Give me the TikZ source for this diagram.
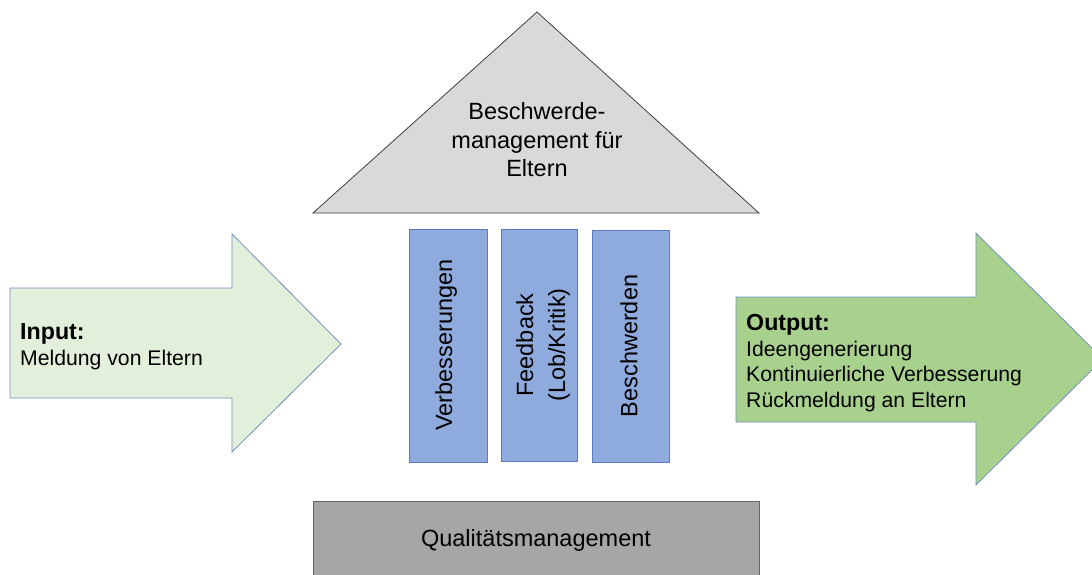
\documentclass[tikz,border=0pt]{standalone}
\usepackage{fontspec}
\setmainfont{Liberation Sans}
\definecolor{trifill}{HTML}{D9D9D9}
\definecolor{qmfill}{HTML}{A6A6A6}
\definecolor{colfill}{HTML}{8FAADC}
\definecolor{colline}{HTML}{5B7BC0}
\definecolor{infill}{HTML}{E2EFDA}
\definecolor{outfill}{HTML}{A9D18E}
\definecolor{arrline}{HTML}{7090C0}
\definecolor{darkline}{HTML}{404040}
\newcommand{\iohead}[1]{{\fontsize{23.2}{26}\selectfont\bfseries #1}}
\tikzset{
  bigtext/.style={font=\fontsize{23.5}{26.7}\selectfont, inner sep=0pt, align=center},
  iotext/.style={font=\fontsize{21.2}{26}\selectfont, inner sep=0pt, align=left, anchor=west},
  pillar/.style={draw=colline, fill=colfill, line width=0.8pt},
}
\begin{document}
\begin{tikzpicture}[x=1pt,y=-1pt]
\useasboundingbox (0,0) rectangle (1092,574);
% roof
\draw[draw=darkline, fill=trifill, line width=0.8pt] (537,12) -- (759,213) -- (313,213) -- cycle;
\node[bigtext, font=\fontsize{23.5}{28.5}\selectfont] (roof) at (537,140) {Beschwerde-\\management für\\Eltern};
% base
\draw[draw=darkline!80, fill=qmfill, line width=0.8pt] (313,590) -- (313,501) -- (759,501) -- (759,590);
\node[bigtext] (qm) at (536,540) {Qualitätsmanagement};
% pillars
\draw[pillar] (409,229) rectangle (487,462);
\draw[pillar] (501,229) rectangle (577,461);
\draw[pillar] (592,230) rectangle (669,462);
\node[bigtext, rotate=90] (p1) at (446,345) {Verbesserungen};
\node[bigtext, rotate=90, font=\fontsize{23.5}{32}\selectfont] (p2) at (543,345) {Feedback\\(Lob/Kritik)};
\node[bigtext, rotate=90] (p3) at (629,346) {Beschwerden};
% input arrow
\draw[draw=arrline, fill=infill, line width=0.8pt] (10,288) -- (232,288) -- (232,234) -- (341,344) -- (232,452) -- (232,398) -- (10,398) -- cycle;
\node[iotext] (in) at (20,347) {\iohead{Input:}\\Meldung von Eltern};
% output arrow
\draw[draw=arrline, fill=outfill, line width=0.8pt] (736,297) -- (976,297) -- (976,233) -- (1103,359) -- (976,485) -- (976,422) -- (736,422) -- cycle;
\node[iotext, font=\fontsize{21.2}{25.7}\selectfont] (out) at (746,363) {\iohead{Output:}\\Ideengenerierung\\Kontinuierliche Verbesserung\\Rückmeldung an Eltern};
\end{tikzpicture}
\end{document}
